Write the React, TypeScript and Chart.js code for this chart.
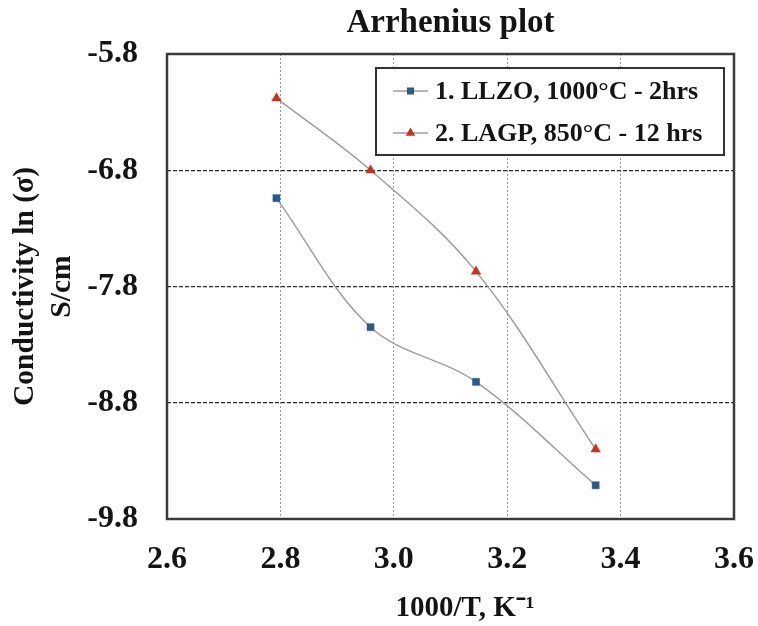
import React, { useEffect, useRef } from 'react';
import { Chart, registerables } from 'chart.js';

Chart.register(...registerables);

// ---- data ----
const invT = [2.793, 2.959, 3.145, 3.356];
const llzo = [-7.04, -8.15, -8.62, -9.51];
const lagp = [-6.18, -6.8, -7.67, -9.2];
const seriesLabels = ['1. LLZO, 1000°C - 2hrs', '2. LAGP, 850°C - 12 hrs'];
const xRange = [2.6, 3.6];
const xStep = 0.2;
const yRange = [-9.8, -5.8];
const yStep = 1.0;
const chartTitle = 'Arrhenius plot';
const xTitle = '1000/T, K\u207B\u00B9';
const yTitle = ['Conductivity ln (\u03C3)', 'S/cm'];

const FONT = '"Liberation Serif", "Times New Roman", Times, serif';
const INK = '#141414';

const framePlugin = {
  id: 'frame',
  beforeDatasetsDraw(chart: any) {
    const { ctx, chartArea: a } = chart;
    ctx.save();
    ctx.strokeStyle = '#3a3a3a';
    ctx.lineWidth = 2.5;
    ctx.strokeRect(a.left, a.top, a.right - a.left, a.bottom - a.top);
    ctx.restore();
  },
};

const titlePlugin = {
  id: 'areaTitle',
  afterDraw(chart: any) {
    const { ctx, chartArea: a } = chart;
    ctx.save();
    ctx.fillStyle = INK;
    ctx.font = 'bold 33px ' + FONT;
    ctx.textAlign = 'center';
    ctx.textBaseline = 'alphabetic';
    ctx.fillText(chartTitle, (a.left + a.right) / 2, a.top - 22);
    ctx.restore();
  },
};

const legendPlugin = {
  id: 'boxLegend',
  afterDraw(chart: any) {
    const { ctx, chartArea: a } = chart;
    const w = 348;
    const h = 87;
    const x0 = a.right - 10 - w;
    const y0 = a.top + 14;
    ctx.save();
    ctx.fillStyle = '#ffffff';
    ctx.fillRect(x0, y0, w, h);
    ctx.strokeStyle = '#333333';
    ctx.lineWidth = 2;
    ctx.strokeRect(x0, y0, w, h);
    chart.data.datasets.forEach((ds: any, i: number) => {
      const cy = y0 + 23 + i * 42;
      const lx = x0 + 17;
      ctx.strokeStyle = ds.borderColor;
      ctx.lineWidth = 1.5;
      ctx.setLineDash([]);
      ctx.beginPath();
      ctx.moveTo(lx, cy);
      ctx.lineTo(lx + 35, cy);
      ctx.stroke();
      ctx.fillStyle = ds.pointBackgroundColor;
      const r = ds.pointRadius;
      const cx = lx + 17.5;
      ctx.beginPath();
      if (ds.pointStyle === 'triangle') {
        ctx.moveTo(cx, cy - r);
        ctx.lineTo(cx + r * 0.866, cy + r * 0.5);
        ctx.lineTo(cx - r * 0.866, cy + r * 0.5);
        ctx.closePath();
      } else {
        const s = r * Math.SQRT1_2;
        ctx.rect(cx - s, cy - s, 2 * s, 2 * s);
      }
      ctx.fill();
      ctx.fillStyle = INK;
      ctx.font = 'bold 26px ' + FONT;
      ctx.textBaseline = 'middle';
      ctx.textAlign = 'left';
      ctx.fillText(ds.label, lx + 42, cy + 1);
    });
    ctx.restore();
  },
};

export default function App() {
  const ref = useRef<HTMLCanvasElement | null>(null);

  useEffect(() => {
    if (!ref.current) return;
    Chart.defaults.font.family = FONT;
    Chart.defaults.color = INK;
    const chart = new Chart(ref.current, {
      type: 'line',
      data: {
        datasets: [
          {
            label: seriesLabels[0],
            data: invT.map((x, i) => ({ x, y: llzo[i] })),
            borderColor: '#9e9e9e',
            borderWidth: 1.5,
            pointStyle: 'rect',
            pointRadius: 5,
            pointBackgroundColor: '#2b5a86',
            pointBorderColor: '#2b5a86',
            pointBorderWidth: 0.5,
            tension: 0.35,
            fill: false,
          },
          {
            label: seriesLabels[1],
            data: invT.map((x, i) => ({ x, y: lagp[i] })),
            borderColor: '#9e9e9e',
            borderWidth: 1.5,
            pointStyle: 'triangle',
            pointRadius: 5.5,
            pointBackgroundColor: '#c8321e',
            pointBorderColor: '#c8321e',
            pointBorderWidth: 0.5,
            tension: 0.35,
            fill: false,
          },
        ],
      },
      options: {
        responsive: false,
        animation: false,
        layout: { padding: { left: 0, right: 24, top: 54, bottom: 0 } },
        plugins: {
          legend: { display: false },
          tooltip: { enabled: false },
          title: { display: false },
        },
        scales: {
          x: {
            type: 'linear',
            min: xRange[0],
            max: xRange[1],
            afterFit: (s: any) => {
              s.height = 107;
            },
            ticks: {
              stepSize: xStep,
              padding: 0,
              font: { size: 32, weight: 'bold', family: FONT, lineHeight: 1.2 },
              color: INK,
              callback: (v: any) => Number(v).toFixed(1),
            },
            grid: {
              drawTicks: true,
              tickLength: 22,
              tickColor: 'rgba(0,0,0,0)',
              color: (c: any) =>
                c.tick && (Math.abs(c.tick.value - xRange[0]) < 1e-6 || Math.abs(c.tick.value - xRange[1]) < 1e-6)
                  ? 'rgba(0,0,0,0)'
                  : '#9a9a9a',
              lineWidth: 1,
            },
            border: { display: false, dash: [2, 2] },
            title: {
              display: true,
              text: '    ' + xTitle,
              font: { size: 29, weight: 'bold', family: FONT, lineHeight: 1.2 },
              color: INK,
              padding: { top: 0, bottom: 0 },
            },
          },
          y: {
            type: 'linear',
            min: yRange[0],
            max: yRange[1],
            afterFit: (s: any) => {
              s.width = 167;
            },
            ticks: {
              stepSize: yStep,
              padding: 29,
              font: { size: 32, weight: 'bold', family: FONT, lineHeight: 1.2 },
              color: INK,
              callback: (v: any) => Number(v).toFixed(1),
            },
            grid: {
              drawTicks: false,
              color: (c: any) =>
                c.tick && (Math.abs(c.tick.value - yRange[0]) < 1e-6 || Math.abs(c.tick.value - yRange[1]) < 1e-6)
                  ? 'rgba(0,0,0,0)'
                  : '#2e2e2e',
              lineWidth: 1.3,
            },
            border: { display: false, dash: [4, 2] },
            title: {
              display: true,
              text: yTitle,
              font: { size: 29.5, weight: 'bold', family: FONT, lineHeight: 1.27 },
              color: INK,
              padding: { top: 6.5, bottom: 0 },
            },
          },
        },
      },
      plugins: [framePlugin, titlePlugin, legendPlugin],
    } as any);
    return () => chart.destroy();
  }, []);

  return (
    <div style={{ position: 'absolute', left: 0, top: 0, width: 758, height: 626, background: '#fff' }}>
      <canvas ref={ref} width={758} height={626} style={{ width: 758, height: 626 }} />
    </div>
  );
}
